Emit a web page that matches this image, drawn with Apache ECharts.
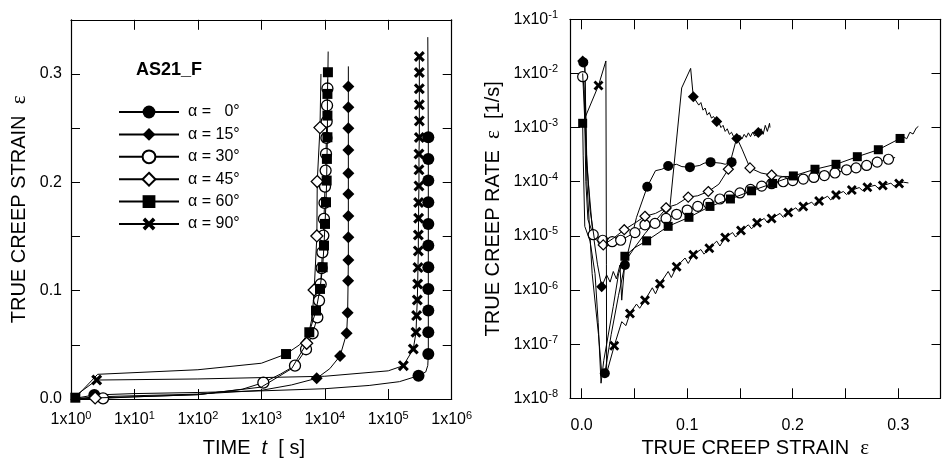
<!DOCTYPE html>
<html>
<head>
<meta charset="utf-8">
<script src="https://cdn.jsdelivr.net/npm/echarts@6/dist/echarts.min.js"></script>
<style>
  html, body { margin: 0; padding: 0; background: #fff; }
  #chart { width: 942px; height: 459px; }
</style>
</head>
<body>
<div id="chart"></div>
<script>
// legend labels, one per loading angle
var names = ['α =   0°', 'α = 15°', 'α = 30°', 'α = 45°', 'α = 60°', 'α = 90°'];

// left panel: [time t (s), true creep strain]
// "line" = extra curve vertices, "mk" = points carrying a marker
var t0line = [[1, 0], [10, 0.005], [100, 0.006], [1000, 0.0075], [1e4, 0.0095], [5e4, 0.0125], [1.5e5, 0.016], [3.9e5, 0.025], [4.2e5, 0.031], [4.2e5, 0.334]];
var t0mk = [[2.33, 0.0037], [3e5, 0.0215], [4.28e5, 0.0415], [4.28e5, 0.0616], [4.28e5, 0.0816], [4.28e5, 0.1016], [4.28e5, 0.1216], [4.28e5, 0.1416], [4.28e5, 0.1616], [4.28e5, 0.1816], [4.28e5, 0.2016], [4.28e5, 0.2216], [4.28e5, 0.2416]];

var t15line = [[1, 0], [10, 0.003], [100, 0.0045], [1000, 0.008], [3000, 0.013], [1.2e4, 0.028], [2.35e4, 0.307]];
var t15mk = [[2.5, 0.002], [7450, 0.0191], [1.74e4, 0.0397], [2.21e4, 0.0606], [2.29e4, 0.0796], [2.33e4, 0.1092], [2.35e4, 0.1283], [2.35e4, 0.1493], [2.35e4, 0.169], [2.35e4, 0.1893], [2.35e4, 0.2084], [2.35e4, 0.2299], [2.35e4, 0.2499], [2.35e4, 0.2693], [2.35e4, 0.2884]];

var t30line = [[1, 0], [10, 0.002], [100, 0.004], [500, 0.009], [2000, 0.023], [1.11e4, 0.295]];
var t30mk = [[3.2, 0.0006], [1075, 0.0151], [3390, 0.0308], [5060, 0.0459], [6440, 0.0606], [7630, 0.0754], [8110, 0.0908], [8610, 0.1059], [8900, 0.1208], [9150, 0.1354], [9490, 0.1508], [9700, 0.1662], [9900, 0.181], [1.007e4, 0.1961], [1.03e4, 0.2108], [1.045e4, 0.2262], [1.06e4, 0.241], [1.07e4, 0.2561], [1.085e4, 0.2709], [1.1e4, 0.2866]];

var t45line = [[1, 0], [10, 0.002], [100, 0.004], [1000, 0.011], [3000, 0.028], [6300, 0.075], [8700, 0.30]];
var t45mk = [[2.4, 0.001], [5180, 0.0514], [6800, 0.1006], [7500, 0.1505], [7600, 0.2007], [8400, 0.2505]];

var t60line = [[1, 0], [2.63, 0.0228], [100, 0.027], [1000, 0.033], [4000, 0.05], [1.13e4, 0.3207]];
var t60mk = [[1.17, 0.0012], [2450, 0.0415], [5700, 0.0616], [7270, 0.0816], [8400, 0.1016], [9250, 0.1216], [9710, 0.1416], [1.007e4, 0.1616], [1.045e4, 0.1816], [1.07e4, 0.2016], [1.08e4, 0.2216], [1.1e4, 0.2416], [1.1e4, 0.2616], [1.1e4, 0.2816], [1.12e4, 0.3016]];

var t90line = [[1, 0], [100, 0.0185], [1e4, 0.021], [1e5, 0.026]];
var t90mk = [[2.54, 0.0175], [1.73e5, 0.0308], [2.48e5, 0.0462], [2.74e5, 0.0616], [2.8e5, 0.077], [2.87e5, 0.0914], [2.91e5, 0.1062], [2.94e5, 0.1213], [2.98e5, 0.1367], [2.98e5, 0.1514], [3.01e5, 0.1668], [3.01e5, 0.1813], [3.05e5, 0.1967], [3.05e5, 0.2115], [3.05e5, 0.2262], [3.09e5, 0.2413], [3.09e5, 0.2567], [3.09e5, 0.2715], [3.09e5, 0.2863], [3.09e5, 0.3013], [3.09e5, 0.3161]];

// right panel: [true creep strain, true creep rate (1/s)]
var r0line = [[0.003, 1.4e-2], [0.005, 1e-4], [0.01, 2e-6], [0.016, 1.5e-7], [0.019, 3e-8], [0.028, 1.5e-7], [0.035, 8e-7], [0.052, 2.2e-5], [0.07, 1.6e-4], [0.076, 1.7e-4], [0.09, 2.1e-4], [0.095, 1.9e-4], [0.112, 2e-4], [0.116, 2.2e-4], [0.132, 2.2e-4], [0.136, 2.1e-4]];
var r0mk = [[0.0016, 1.6e-2], [0.022, 2.9e-8], [0.041, 2.9e-6], [0.0622, 8.1e-5], [0.082, 1.95e-4], [0.1026, 1.86e-4], [0.1222, 2.3e-4], [0.1421, 2.3e-4]];

var r15line = [[0.003, 1.5e-2], [0.005, 2e-4], [0.01, 1.5e-5], [0.015, 3e-6], [0.0237, 1.9e-6], [0.027, 1.4e-6], [0.03, 2.2e-6], [0.033, 1.6e-6], [0.0363, 2.9e-6], [0.038, 6.5e-7], [0.041, 3.3e-6], [0.05, 6e-6], [0.06, 1.1e-5], [0.07, 1.9e-5], [0.0837, 3.5e-5], [0.0948, 5.4e-3], [0.1033, 1.24e-2],
  [0.111, 2.6e-3], [0.113, 2.9e-3], [0.115, 2.1e-3], [0.117, 2.3e-3], [0.119, 1.7e-3], [0.121, 1.9e-3], [0.123, 1.5e-3], [0.125, 1.6e-3], [0.13, 1.25e-3], [0.132, 1.0e-3], [0.134, 1.1e-3], [0.136, 8.5e-4], [0.138, 9.5e-4], [0.14, 7.5e-4], [0.142, 8.2e-4], [0.144, 6.8e-4],
  [0.15, 7.2e-4], [0.152, 6.2e-4], [0.154, 7.5e-4], [0.156, 6.6e-4], [0.158, 8e-4], [0.16, 6.8e-4], [0.162, 8.2e-4], [0.164, 7e-4], [0.17, 9.5e-4], [0.172, 7.5e-4], [0.174, 1.1e-3], [0.176, 8.5e-4], [0.178, 1.2e-3], [0.1785, 1.0e-3]];
var r15mk = [[0.001, 1.7e-2], [0.019, 1.15e-6], [0.08, 3.2e-5], [0.1058, 3.7e-3], [0.128, 1.3e-3], [0.147, 6.3e-4], [0.1674, 8.1e-4]];

var r30line = [[0.0025, 5e-3], [0.004, 1e-4], [0.006, 2e-5], [0.297, 2.8e-4]];
var r30mk = [[0.001, 8.7e-3], [0.011, 1.05e-5], [0.02, 8.3e-6], [0.029, 7.8e-6], [0.037, 8.3e-6], [0.0505, 1.15e-5], [0.06, 1.6e-5], [0.0695, 1.7e-5], [0.08, 2.1e-5], [0.09, 2.5e-5], [0.1, 3e-5], [0.11, 3.5e-5], [0.12, 4e-5], [0.131, 4.8e-5], [0.14, 5.4e-5], [0.15, 6.2e-5], [0.16, 7.2e-5], [0.1706, 8.3e-5], [0.18, 9.2e-5], [0.191, 1e-4], [0.2, 1.05e-4], [0.21, 1.12e-4], [0.22, 1.2e-4], [0.23, 1.3e-4], [0.24, 1.45e-4], [0.251, 1.66e-4], [0.26, 1.8e-4], [0.27, 2e-4], [0.28, 2.3e-4], [0.2907, 2.6e-4]];

var r45line = [[0.001, 1e-2], [0.004, 5e-4], [0.008, 3e-5], [0.012, 9e-6], [0.03, 9e-6], [0.05, 1.7e-5], [0.07, 2.6e-5], [0.09, 3.8e-5], [0.11, 5.5e-5], [0.13, 9e-5], [0.147, 6.5e-4], [0.152, 4e-4], [0.17, 1.45e-4], [0.19, 1.25e-4], [0.2, 1.25e-4]];
var r45mk = [[0.0205, 6.8e-6], [0.0404, 1.3e-5], [0.06, 2.3e-5], [0.08, 3.3e-5], [0.101, 5.2e-5], [0.12, 6.6e-5], [0.139, 1.7e-4], [0.1595, 1.8e-4], [0.18, 1.33e-4]];

var r60line = [[0.0015, 3e-4], [0.003, 1.5e-5], [0.008, 8e-6], [0.0127, 2e-6], [0.0157, 2.5e-7], [0.0184, 1.9e-8], [0.021, 5e-8], [0.03, 5e-7], [0.035, 2e-6], [0.05, 6e-6], [0.305, 6.8e-4], [0.308, 6.2e-4], [0.311, 8.2e-4], [0.314, 7.6e-4], [0.317, 9.8e-4], [0.319, 1.05e-3]];
var r60mk = [[0.001, 1.2e-3], [0.041, 4.2e-6], [0.0616, 8.1e-6], [0.082, 1.5e-5], [0.1017, 2.2e-5], [0.1216, 3.5e-5], [0.141, 4.8e-5], [0.161, 6.8e-5], [0.181, 9.3e-5], [0.2006, 1.28e-4], [0.2211, 1.7e-4], [0.241, 2.1e-4], [0.2612, 2.9e-4], [0.2811, 3.9e-4], [0.3017, 6.3e-4]];

var r90line = [[0.001, 1.2e-3], [0.023, 1.7e-2], [0.0235, 3e-6], [0.0237, 2.9e-8],
  [0.038, 2.6e-7], [0.042, 2.2e-7], [0.052, 5.5e-7], [0.055, 4.6e-7], [0.067, 1.1e-6], [0.07, 8.5e-7], [0.082, 2.2e-6], [0.085, 1.7e-6],
  [0.098, 3.9e-6], [0.101, 3.1e-6], [0.113, 5.6e-6], [0.116, 4.6e-6], [0.128, 8e-6], [0.131, 6.5e-6], [0.143, 1.15e-5], [0.146, 9.5e-6],
  [0.158, 1.6e-5], [0.161, 1.35e-5], [0.173, 2.1e-5], [0.176, 1.75e-5], [0.188, 2.6e-5], [0.191, 2.2e-5], [0.203, 3.3e-5], [0.206, 2.8e-5],
  [0.218, 4.2e-5], [0.221, 3.6e-5], [0.233, 5.4e-5], [0.236, 4.6e-5], [0.248, 6.6e-5], [0.251, 5.8e-5], [0.263, 7.8e-5], [0.266, 6.9e-5],
  [0.278, 8.6e-5], [0.281, 7.6e-5], [0.293, 9.4e-5], [0.296, 8.3e-5], [0.305, 9.8e-5], [0.3096, 9.5e-5]];
var r90mk = [[0.016, 6e-3], [0.0309, 9.3e-8], [0.0458, 3.7e-7], [0.06, 6.5e-7], [0.0742, 1.3e-6], [0.09, 2.7e-6], [0.1058, 4.5e-6], [0.121, 5.9e-6], [0.136, 9.3e-6], [0.151, 1.25e-5], [0.1662, 1.74e-5], [0.18, 2.1e-5], [0.1958, 2.7e-5], [0.21, 3.5e-5], [0.225, 4.4e-5], [0.241, 5.7e-5], [0.256, 7.0e-5], [0.2707, 7.9e-5], [0.2853, 8.5e-5], [0.3008, 9.3e-5]];

var xTicksRight = [0, 0.05, 0.1, 0.15, 0.2, 0.25, 0.3];
var xLabelsRight = [0, 0.1, 0.2, 0.3];

var FONT = 'Liberation Sans';
var cross = 'path://M0,2 L2,0 L5,3 L8,0 L10,2 L7,5 L10,8 L8,10 L5,7 L2,10 L0,8 L3,5 Z';
var symbols = ['circle', 'diamond', 'circle', 'diamond', 'rect', cross];
var fills = ['#000', '#000', '#fff', '#fff', '#000', '#000'];
var sizeL = [12, 12, 11, 12, 10, 11];
var sizeR = [10, 11, 10, 10, 9, 10];

var leftSets = [[t0line, t0mk], [t15line, t15mk], [t30line, t30mk], [t45line, t45mk], [t60line, t60mk], [t90line, t90mk]];
var rightSets = [[r0line, r0mk], [r15line, r15mk], [r30line, r30mk], [r45line, r45mk], [r60line, r60mk], [r90line, r90mk]];

// join curve vertices and marker points into one line, ordered by strain
function merge(line, marks, key) {
  var pts = [];
  line.forEach(function (p) { pts.push({ value: p, symbol: 'none' }); });
  marks.forEach(function (p) { pts.push({ value: p }); });
  pts.sort(function (a, b) { return a.value[key] - b.value[key]; });
  return pts;
}

var series = [];
leftSets.forEach(function (s, i) {
  series.push({
    name: names[i], type: 'line', xAxisIndex: 0, yAxisIndex: 0,
    data: merge(s[0], s[1], 1),
    symbol: symbols[i], symbolSize: sizeL[i], showAllSymbol: true,
    lineStyle: { color: '#000', width: 1 },
    itemStyle: { color: fills[i], borderColor: '#000', borderWidth: fills[i] === '#fff' ? 1.3 : 0 },
    emphasis: { disabled: true }, animation: false, z: 3 + i
  });
});
rightSets.forEach(function (s, i) {
  series.push({
    name: 'r' + i, type: 'line', xAxisIndex: 2, yAxisIndex: 2,
    data: merge(s[0], s[1], 0),
    symbol: symbols[i], symbolSize: sizeR[i], showAllSymbol: true,
    lineStyle: { color: '#000', width: 1 },
    itemStyle: { color: fills[i], borderColor: '#000', borderWidth: fills[i] === '#fff' ? 1.2 : 0 },
    emphasis: { disabled: true }, animation: false, z: 3 + i
  });
});

var tickStyle = { color: '#000', width: 1 };
var lineStyle = { lineStyle: { color: '#000', width: 1.2 }, onZero: false };
var supRich = {
  b: { fontSize: 16, fontFamily: FONT, color: '#000' },
  s: { fontSize: 11, fontFamily: FONT, color: '#000', padding: [0, 0, 9, 0] }
};
function powLabel(v) {
  return '{b|1x10}{s|' + Math.round(Math.log10(v)) + '}';
}
var nameRich = {
  n: { fontSize: 20, fontFamily: FONT, color: '#000' },
  i: { fontSize: 20, fontFamily: FONT, fontStyle: 'italic', color: '#000' },
  e: { fontSize: 21, fontFamily: 'Liberation Serif', color: '#000' }
};

var chart = echarts.init(document.getElementById('chart'), null, { renderer: 'canvas' });
chart.setOption({
  backgroundColor: '#fff',
  animation: false,
  title: {
    text: 'AS21_F', left: 136, top: 61, padding: 0,
    textStyle: { fontSize: 18, fontWeight: 'bold', fontFamily: FONT, color: '#000' }
  },
  legend: {
    data: names, orient: 'vertical', left: 113, top: 99,
    itemWidth: 60, itemHeight: 16, itemGap: 6.4,
    textStyle: { fontSize: 16, fontFamily: FONT, color: '#000', padding: [0, 0, 0, 4] },
    selectedMode: false
  },
  grid: [
    { left: 71, top: 19.8, width: 380.7, height: 379.2, outerBoundsMode: 'none', containLabel: false },
    { left: 570, top: 19.3, width: 370.5, height: 379, outerBoundsMode: 'none', containLabel: false }
  ],
  xAxis: [
    {
      type: 'log', gridIndex: 0, min: 1, max: 1e6, logBase: 10,
      axisLine: lineStyle, axisTick: { inside: true, length: 10, lineStyle: tickStyle },
      axisLabel: { formatter: powLabel, rich: supRich, fontSize: 16, margin: 11 },
      splitLine: { show: false },
      name: '{n|TIME  }{i|t}{n|  [ s]}', nameLocation: 'middle', nameGap: 39,
      nameTextStyle: { rich: nameRich, padding: [0, 15, 0, 0] }
    },
    {
      type: 'log', gridIndex: 0, min: 1, max: 1e6, logBase: 10, position: 'top',
      axisLine: lineStyle, axisTick: { inside: true, length: 10, lineStyle: tickStyle },
      axisLabel: { show: false }, splitLine: { show: false }
    },
    {
      type: 'value', gridIndex: 1, min: -0.011, max: 0.34,
      axisLine: lineStyle,
      axisTick: { inside: true, length: 10, lineStyle: tickStyle, customValues: xTicksRight },
      axisLabel: { customValues: xLabelsRight, formatter: function (v) { return v.toFixed(1); }, fontSize: 16, fontFamily: FONT, color: '#000', margin: 19 },
      splitLine: { show: false },
      name: '{n|TRUE CREEP STRAIN  }{e|ε}', nameLocation: 'middle', nameGap: 40,
      nameTextStyle: { rich: nameRich }
    },
    {
      type: 'value', gridIndex: 1, min: -0.011, max: 0.34, position: 'top',
      axisLine: lineStyle,
      axisTick: { inside: true, length: 10, lineStyle: tickStyle, customValues: xTicksRight },
      axisLabel: { show: false }, splitLine: { show: false }
    }
  ],
  yAxis: [
    {
      type: 'value', gridIndex: 0, min: 0, max: 0.35, interval: 0.05,
      axisLine: lineStyle, axisTick: { inside: true, length: 9, lineStyle: tickStyle },
      axisLabel: {
        formatter: function (v) { return Math.abs(v * 10 - Math.round(v * 10)) < 1e-6 ? v.toFixed(1) : ''; },
        fontSize: 16, fontFamily: FONT, color: '#000', margin: 9
      },
      splitLine: { show: false },
      name: '{n|TRUE CREEP STRAIN  }{e|ε}', nameLocation: 'middle', nameGap: 41,
      nameTextStyle: { rich: nameRich }
    },
    {
      type: 'value', gridIndex: 0, min: 0, max: 0.35, interval: 0.05, position: 'right',
      axisLine: lineStyle, axisTick: { inside: true, length: 9, lineStyle: tickStyle },
      axisLabel: { show: false }, splitLine: { show: false }
    },
    {
      type: 'log', gridIndex: 1, min: 1e-8, max: 1e-1, logBase: 10,
      axisLine: lineStyle, axisTick: { inside: true, length: 10, lineStyle: tickStyle },
      axisLabel: { formatter: powLabel, rich: supRich, fontSize: 16, margin: 12 },
      splitLine: { show: false },
      name: '{n|TRUE CREEP RATE  }{e|ε}{n|  [1/s]}', nameLocation: 'middle', nameGap: 66,
      nameTextStyle: { rich: nameRich }
    },
    {
      type: 'log', gridIndex: 1, min: 1e-8, max: 1e-1, logBase: 10, position: 'right',
      axisLine: lineStyle, axisTick: { inside: true, length: 9, lineStyle: tickStyle },
      axisLabel: { show: false }, splitLine: { show: false }
    }
  ],
  series: series
});
</script>
</body>
</html>
